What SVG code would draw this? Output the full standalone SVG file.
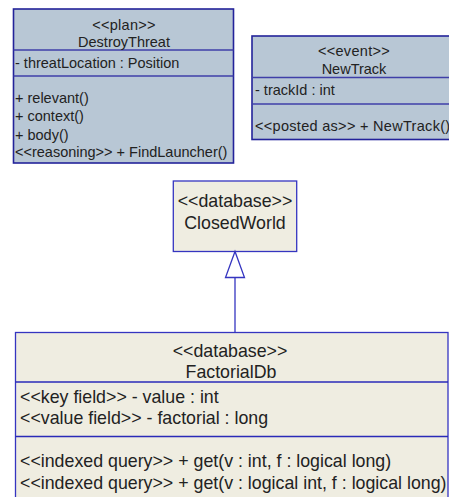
<svg xmlns="http://www.w3.org/2000/svg" width="449" height="497" viewBox="0 0 449 497">
<style>
  text { font-family: "Liberation Sans", Arial, sans-serif; fill: #222; }
  .s { font-size: 14.5px; }
  .l { font-size: 17.8px; }
  .c { text-anchor: middle; }
  .plan { fill: #B8C7D5; stroke: #23239A; stroke-width: 1.6; }
  .pdiv { stroke: #3F3FA8; stroke-width: 1.6; }
  .db { fill: #EFEDE1; stroke: #3535C0; stroke-width: 1.3; }
  .ddiv { stroke: #2A2AB8; stroke-width: 1.3; }
  .conn { stroke: #3535C0; stroke-width: 1.3; fill: none; }
</style>
<rect width="449" height="497" fill="#FFFFFF"/>

<g id="DestroyThreat">
  <rect class="plan" x="13.5" y="9" width="220" height="154"/>
  <line class="pdiv" x1="13.5" y1="50" x2="233.5" y2="50"/>
  <line class="pdiv" x1="13.5" y1="76" x2="233.5" y2="76"/>
  <text class="s c" x="124" y="30" letter-spacing="0.3">&lt;&lt;plan&gt;&gt;</text>
  <text class="s c" x="124" y="47">DestroyThreat</text>
  <text class="s" x="15" y="67.5">- threatLocation : Position</text>
  <text class="s" x="15" y="103">+ relevant()</text>
  <text class="s" x="15" y="120.5">+ context()</text>
  <text class="s" x="15" y="139.5">+ body()</text>
  <text class="s" x="15" y="157">&lt;&lt;reasoning&gt;&gt; + FindLauncher()</text>
</g>

<g id="NewTrack">
  <rect class="plan" x="252" y="36" width="200" height="103.5"/>
  <line class="pdiv" x1="252" y1="77.5" x2="452" y2="77.5"/>
  <line class="pdiv" x1="252" y1="104" x2="452" y2="104"/>
  <text class="s c" x="354" y="56" letter-spacing="0.3">&lt;&lt;event&gt;&gt;</text>
  <text class="s c" x="354" y="73.5">NewTrack</text>
  <text class="s" x="255" y="95">- trackId : int</text>
  <text class="s" x="255" y="131" letter-spacing="0.3">&lt;&lt;posted as&gt;&gt; + NewTrack()</text>
</g>

<g id="ClosedWorld">
  <rect class="db" x="173.3" y="181" width="123.4" height="70.5"/>
  <text class="l c" x="235" y="206.5">&lt;&lt;database&gt;&gt;</text>
  <text class="l c" x="235" y="228.5">ClosedWorld</text>
</g>

<g id="FactorialDb">
  <rect class="db" x="15.5" y="332.5" width="432.5" height="175"/>
  <line class="ddiv" x1="15.5" y1="382" x2="448" y2="382"/>
  <line class="ddiv" x1="15.5" y1="436.5" x2="448" y2="436.5"/>
  <text class="l c" x="230" y="356.5">&lt;&lt;database&gt;&gt;</text>
  <text class="l c" x="231" y="378">FactorialDb</text>
  <text class="l" x="20" y="402.5">&lt;&lt;key field&gt;&gt; - value : int</text>
  <text class="l" x="20" y="424">&lt;&lt;value field&gt;&gt; - factorial : long</text>
  <text class="l" x="20" y="467">&lt;&lt;indexed query&gt;&gt; + get(v : int, f : logical long)</text>
  <text class="l" x="20" y="489">&lt;&lt;indexed query&gt;&gt; + get(v : logical int, f : logical long)</text>
</g>

<g id="connectors">
  <line class="conn" x1="235" y1="277.5" x2="235" y2="332.5"/>
  <polygon class="conn" points="235,251.5 225.5,277.5 244.5,277.5" style="fill:#FFFFFF"/>
</g>
</svg>
